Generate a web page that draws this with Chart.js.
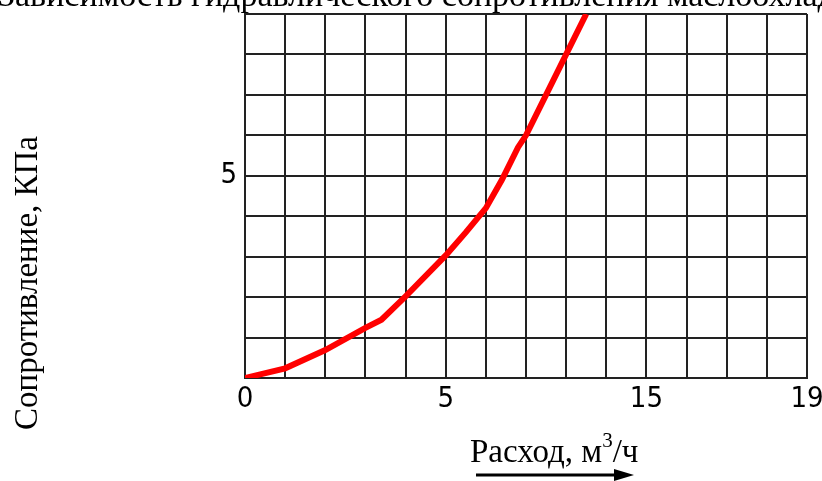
<!DOCTYPE html>
<html>
<head>
<meta charset="utf-8">
<script src="https://cdn.jsdelivr.net/npm/chart.js@4.4.0/dist/chart.umd.min.js"></script>
<style>
    html, body { margin: 0; padding: 0; background: #fff; }
    #wrap { position: relative; width: 822px; height: 481px; }
</style>
</head>
<body>
<div id="wrap"><canvas id="resistChart" width="822" height="481"></canvas></div>
<script>
// расход (в делениях сетки) и сопротивление
const flowValues = [0, 1, 2, 3, 3.4, 4, 5, 5.5, 6, 6.4, 6.8, 7, 7.5, 8, 8.5];
const resistanceValues = [0, 0.24, 0.69, 1.24, 1.44, 2.02, 3.03, 3.6, 4.2, 4.9, 5.7, 6.0, 7.0, 8.0, 9.0];

const xTickValues = [0, 5, 10, 14];
const xTickLabels = ["0", "5", "15", "19"];
const yTickValues = [5];
const yTickLabels = ["5"];

const titleText = "Зависимость гидравлического сопротивления маслоохладителя";
const yTitle = "Сопротивление, КПа";

const tickFont = { family: "'Liberation Sans Narrow', 'DejaVu Sans Condensed', sans-serif", size: 29 };
const serif = "'Liberation Serif', 'Times New Roman', serif";

const points = flowValues.map((x, i) => ({ x: x, y: resistanceValues[i] }));

// подписи осей, заголовок и стрелка
const captions = {
    id: "captions",
    afterDraw(chart) {
        const ctx = chart.ctx;
        ctx.save();
        ctx.fillStyle = "#000";

        ctx.font = "34px " + serif;
        ctx.textAlign = "left";
        ctx.textBaseline = "alphabetic";
        ctx.fillText(titleText, -2, 6);

        ctx.save();
        ctx.translate(37, 283);
        ctx.rotate(-Math.PI / 2);
        ctx.textAlign = "center";
        ctx.font = "33px " + serif;
        ctx.fillText(yTitle, 0, 0);
        ctx.restore();

        let x = 470;
        const base = 462;
        ctx.textAlign = "left";
        ctx.font = "33px " + serif;
        const part1 = "Расход, м";
        ctx.fillText(part1, x, base);
        x += ctx.measureText(part1).width;
        ctx.font = "21px " + serif;
        ctx.fillText("3", x, base - 15);
        x += ctx.measureText("3").width;
        ctx.font = "33px " + serif;
        ctx.fillText("/ч", x, base);

        ctx.strokeStyle = "#000";
        ctx.lineWidth = 3;
        ctx.beginPath();
        ctx.moveTo(476, 475);
        ctx.lineTo(618, 475);
        ctx.stroke();
        ctx.beginPath();
        ctx.moveTo(634, 475);
        ctx.lineTo(614, 469);
        ctx.lineTo(614, 481);
        ctx.closePath();
        ctx.fill();
        ctx.restore();
    }
};

new Chart(document.getElementById("resistChart").getContext("2d"), {
    type: "line",
    data: {
        datasets: [{
            data: points,
            borderColor: "#ff0000",
            borderWidth: 6,
            pointRadius: 0,
            tension: 0,
            fill: false
        }]
    },
    options: {
        responsive: false,
        animation: false,
        layout: { padding: { left: 0, right: 15, top: 14, bottom: 0 } },
        plugins: {
            legend: { display: false },
            tooltip: { enabled: false },
            title: { display: false }
        },
        scales: {
            x: {
                type: "linear",
                min: 0,
                max: 14,
                afterBuildTicks: s => { s.ticks = Array.from({ length: 15 }, (_, i) => ({ value: i })); },
                afterFit: s => {
                    s.height = 103;
                    s.paddingLeft = 0;
                    s.paddingRight = 0;
                },
                grid: { color: "#222", lineWidth: 2, drawTicks: false },
                border: { color: "#222", width: 2 },
                ticks: {
                    autoSkip: false,
                    maxRotation: 0,
                    padding: 4,
                    color: "#000",
                    font: tickFont,
                    callback: v => {
                        const i = xTickValues.indexOf(v);
                        return i >= 0 ? xTickLabels[i] : "";
                    }
                }
            },
            y: {
                min: 0,
                max: 9,
                afterBuildTicks: s => { s.ticks = Array.from({ length: 10 }, (_, i) => ({ value: i })); },
                afterFit: s => {
                    s.width = 245;
                    s.paddingTop = 0;
                    s.paddingBottom = 0;
                },
                grid: { color: "#222", lineWidth: 2, drawTicks: false },
                border: { color: "#222", width: 2 },
                ticks: {
                    autoSkip: false,
                    padding: 8,
                    color: "#000",
                    font: tickFont,
                    callback: v => {
                        const i = yTickValues.indexOf(v);
                        return i >= 0 ? yTickLabels[i] : "";
                    }
                }
            }
        }
    },
    plugins: [captions]
});
</script>
</body>
</html>
